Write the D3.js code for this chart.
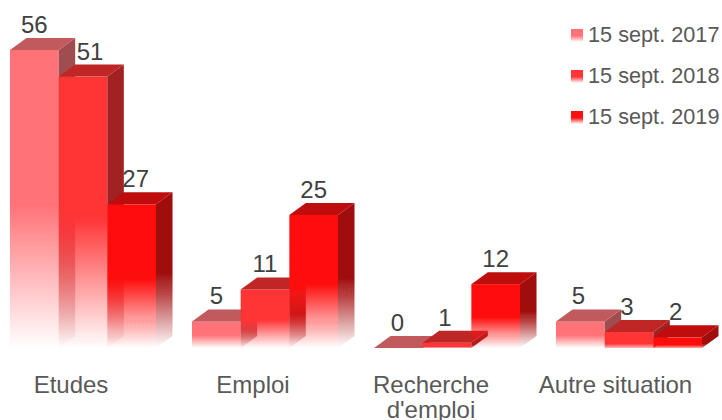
<!DOCTYPE html>
<html><head><meta charset="utf-8">
<script src="https://cdnjs.cloudflare.com/ajax/libs/d3/7.8.5/d3.min.js"></script>
<style>html,body{margin:0;padding:0;background:#fff;overflow:hidden}svg{display:block}text{font-family:"Liberation Sans",Arial,sans-serif}</style>
</head><body><div id="chart"></div>
<script>
const categories = ["Etudes", "Emploi", "Recherche|d'emploi", "Autre situation"];
const seriesNames = ["15 sept. 2017", "15 sept. 2018", "15 sept. 2019"];
const values2017 = [56, 5, 0, 5];
const values2018 = [51, 11, 1, 3];
const values2019 = [27, 25, 12, 2];
const seriesValues = [values2017, values2018, values2019];
const frontColors = ["#ff7378", "#ff3436", "#ff1010"];
const topColors = ["#c05a5c", "#bf2527", "#bf0a0a"];
const sideColors = ["#a04d4f", "#a02022", "#a00808"];

const W = 722, H = 420, depthX = 16.5, depthY = 12;
const svg = d3.select("#chart").append("svg").attr("width", W).attr("height", H);
const defs = svg.append("defs");
defs.append("filter").attr("id","soft").attr("x","-5%").attr("y","-5%").attr("width","110%").attr("height","110%")
  .append("feGaussianBlur").attr("stdDeviation",0.45);

function fade(id, color, start, endOpacity){
  const g = defs.append("linearGradient").attr("id",id).attr("x1",0).attr("y1",0).attr("x2",0).attr("y2",1);
  g.append("stop").attr("offset",0).attr("stop-color",color);
  g.append("stop").attr("offset",start).attr("stop-color",color);
  g.append("stop").attr("offset",1).attr("stop-color",color).attr("stop-opacity",endOpacity);
}
frontColors.forEach((c,i)=>{fade("front"+i,c,0.52,0); fade("frontLow"+i,c,0.72,0.35);});
sideColors.forEach((c,i)=>{fade("side"+i,c,0.52,0); fade("sideLow"+i,c,0.8,0.5);});

const x0 = d3.scaleBand().domain(categories).range([10,702]).paddingInner(36/182).paddingOuter(0);
const x1 = d3.scaleBand().domain(d3.range(seriesNames.length)).range([0,x0.bandwidth()]);
const y = d3.scaleLinear().domain([0,56]).range([348,50]);
const labelNudge = {"Etudes|1":7, "Etudes|2":4, "Recherche|d'emploi|0":-1, "Recherche|d'emploi|1":-2,
  "Autre situation|0":-2, "Autre situation|1":-2, "Autre situation|2":-2};
const labelCenter = {"Etudes":-12, "Emploi":-12, "Recherche|d'emploi":-16, "Autre situation":-13.5};

const marks = svg.append("g").attr("filter","url(#soft)");
const poly = (pts)=>pts.map(p=>p.join(",")).join(" ");
categories.forEach((cat,c)=>{
  seriesValues.forEach((vals,s)=>{
    const v = vals[c], l = x0(cat)+x1(s), r = l+x1.bandwidth(), t = y(v), b = y(0);
    const low = b-t < 20 ? "Low" : "";
    const g = marks.append("g");
    if(v>0) g.append("rect").attr("x",l).attr("y",t).attr("width",r-l).attr("height",b-t).attr("fill",`url(#front${low}${s})`);
    if(v>0) g.append("polygon").attr("points",poly([[r,t],[r+depthX,t-depthY],[r+depthX,b-depthY],[r,b]])).attr("fill",`url(#side${low}${s})`);
    g.append("polygon").attr("points",poly([[l,t],[l+depthX,t-depthY],[r+depthX,t-depthY],[r,t]])).attr("fill",topColors[s]);
  });
});
categories.forEach((cat,c)=>{
  seriesValues.forEach((vals,s)=>{
    const v = vals[c];
    svg.append("text").attr("x",x0(cat)+x1(s)+x1.bandwidth()/2+(labelNudge[cat+"|"+s]||0)).attr("y",y(v)-17)
      .attr("text-anchor","middle").attr("font-size",24).attr("fill","#404040").text(v);
  });
  const cx = x0(cat)+x0.bandwidth()/2+labelCenter[cat];
  const t = svg.append("text").attr("y",393).attr("text-anchor","middle").attr("font-size",24).attr("fill","#595959");
  cat.split("|").forEach((w,i)=>t.append("tspan").attr("x",cx).attr("dy",i?25:0).text(w));
});
const legendY = d3.scalePoint().domain(seriesNames).range([35,117]);
seriesNames.forEach((n,i)=>{
  const yy = legendY(n);
  svg.append("rect").attr("x",571).attr("y",yy-6).attr("width",12).attr("height",13).attr("fill",`url(#front${i})`);
  svg.append("text").attr("x",588).attr("y",yy+7).attr("font-size",21.7).attr("fill","#595959").text(n);
});
</script></body></html>
